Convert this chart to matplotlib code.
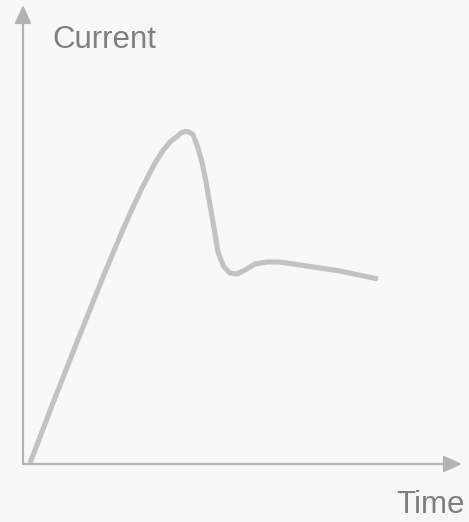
import matplotlib
matplotlib.use('agg')
import matplotlib.pyplot as plt

# curve (time, current), origin at the axes corner
time = [7, 30, 54, 79, 94, 107, 119, 132, 140, 147, 154, 158, 162, 166, 170, 174, 179, 183, 187,
        191, 195, 198, 201, 207, 214, 222, 232, 244, 257, 277, 317, 355]
current = [1, 61, 122, 184.5, 220.5, 250.5, 276, 301, 313.5, 322, 327.5, 331, 332.5, 332, 329.5,
           319, 302, 282, 259, 236, 212, 204, 197, 191, 190, 194, 200, 202, 202, 199, 193, 185]

x_label = "Time"
y_label = "Current"

fig = plt.figure(figsize=(4.69, 5.22), dpi=100)
fig.patch.set_facecolor('#f8f8f8')
ax = fig.add_axes([0, 0, 1, 1])
ax.set_facecolor('#f8f8f8')
ax.set_xlim(-23, 446)
ax.set_ylim(-58, 464)
ax.axis('off')

axis_col = '#b3b3b3'
# axes drawn as arrows
ax.annotate('', xy=(0, 459), xytext=(0, 0),
            arrowprops=dict(arrowstyle='-|>,head_length=1.1,head_width=0.5',
                            color=axis_col, lw=1.6, shrinkA=0, shrinkB=0))
ax.annotate('', xy=(439, 0), xytext=(0, 0),
            arrowprops=dict(arrowstyle='-|>,head_length=1.1,head_width=0.5',
                            color=axis_col, lw=1.6, shrinkA=0, shrinkB=0))

ax.plot(time, current, color='#c2c2c2', lw=3.7, solid_joinstyle='round', solid_capstyle='butt')

ax.text(29, 424, y_label, fontsize=22.5, color='#7f7f7f', family='Liberation Sans', va='center', ha='left')
ax.text(442, -41, x_label, fontsize=22.5, color='#7f7f7f', family='Liberation Sans', va='center', ha='right')

fig.savefig('out.png', dpi=100, facecolor=fig.get_facecolor())
